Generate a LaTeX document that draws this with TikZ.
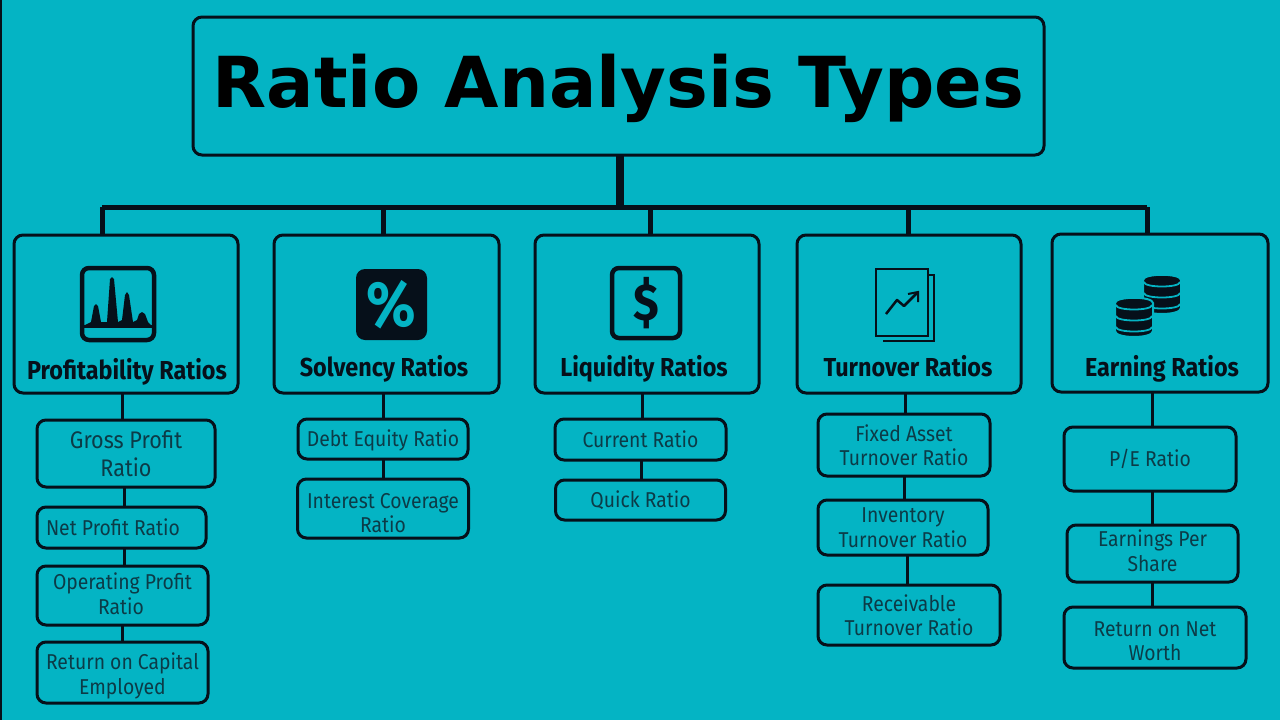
\documentclass[tikz,border=0pt]{standalone}
\usepackage{fontspec}
\setmainfont{Fira Sans}
\newfontfamily\titlefont{DejaVu Sans}
\newfontfamily\labelfont[FakeStretch=.9]{Fira Sans}
\usetikzlibrary{positioning, calc}
\definecolor{panel}{HTML}{04B4C4}
\definecolor{ink}{HTML}{06101A}
\definecolor{subink}{HTML}{0C3B47}
\newcommand{\lowerby}[1]{\rule{0pt}{#1}}
\newcommand{\raiseby}[1]{\rule[-#1]{0pt}{0pt}}
\tikzset{
    titlebox/.style={draw=ink, line width=3pt, rounded corners=9pt, outer sep=0pt, minimum width=851pt, minimum height=138pt, font=\titlefont\fontsize{70.3}{76}\selectfont\bfseries},
    mainbox/.style={draw=ink, line width=3pt, rounded corners=9pt, outer sep=0pt, minimum width=224pt, minimum height=158pt},
    subbox/.style={draw=ink, line width=3pt, rounded corners=9pt, outer sep=0pt, align=center, inner sep=0pt, text=subink, font=\labelfont\fontsize{21.5}{24.5}\selectfont},
    headtext/.style={inner sep=0pt, anchor=base, text=ink, font=\labelfont\fontsize{26}{28}\selectfont\bfseries},
    bar/.style={draw=ink, line width=3pt},
    bus/.style={draw=ink, line width=5pt},
    icon/.style={draw=ink, line width=4.5pt, rounded corners=7pt}
}
\begin{document}
\begin{tikzpicture}[x=1pt, y=-1pt]
	\fill[panel] (0,0) rectangle (1280,720);
	\fill[ink] (0,0) rectangle (2,720);
	\useasboundingbox (0,0) rectangle (1280,720);
	% top
	\node(Title)[titlebox] at (618.5,86) {\lowerby{58pt}Ratio Analysis Types};
	% main row
	\node(Profit)[mainbox] at (126,314) {};
	\node(Solvency)[mainbox, right=36pt of Profit, minimum width=225pt] {};
	\node(Liquidity)[mainbox, right=36pt of Solvency] {};
	\node(Turnover)[mainbox, right=38pt of Liquidity] {};
	\node(Earning)[mainbox, right=31pt of Turnover, minimum width=216pt, yshift=1pt] {};
	\node(ProfitText)[headtext] at (127,379) {Profitability Ratios};
	\node(SolvencyText)[headtext] at (384,376) {Solvency Ratios};
	\node(LiquidityText)[headtext] at (644,376) {Liquidity Ratios};
	\node(TurnoverText)[headtext] at (908,376) {Turnover Ratios};
	\node(EarningText)[headtext] at (1162,376) {Earning Ratios};
	% first column
	\node(Gross)[subbox, minimum width=178pt, minimum height=67pt, below=27pt of Profit, font=\labelfont\fontsize{24}{28}\selectfont] {Gross Profit\hspace{6pt}\\Ratio\hspace{6pt}};
	\node(Net)[subbox, minimum width=169pt, minimum height=41pt, below=20pt of Gross, xshift=-4.5pt] {Net Profit Ratio\hspace{17pt}};
	\node(Operating)[subbox, minimum width=171pt, minimum height=59pt, below=18pt of Net, xshift=1pt] {Operating Profit\hspace{3pt}\\Ratio\hspace{3pt}\raiseby{4pt}};
	\node(Return)[subbox, minimum width=171pt, minimum height=61pt, below=17pt of Operating] {\lowerby{24pt}Return on Capital\hspace{3pt}\\Employed\hspace{3pt}};
	% second column
	\node(Debt)[subbox, minimum width=170pt, minimum height=40pt, below=26pt of Solvency, xshift=-3.5pt] {\lowerby{20pt}Debt Equity Ratio};
	\node(Interest)[subbox, minimum width=171pt, minimum height=59pt, below=20pt of Debt] {\lowerby{24pt}Interest Coverage\\Ratio};
	% third column
	\node(Current)[subbox, minimum width=171pt, minimum height=41pt, below=26pt of Liquidity, xshift=-6.5pt] {Current Ratio};
	\node(Quick)[subbox, minimum width=170pt, minimum height=40pt, below=20pt of Current] {Quick Ratio};
	% fourth column
	\node(Fixed)[subbox, minimum width=172pt, minimum height=62pt, below=21pt of Turnover, xshift=-5pt] {Fixed Asset\hspace{4pt}\\Turnover Ratio};
	\node(Inventory)[subbox, minimum width=170pt, minimum height=55pt, below=24pt of Fixed, xshift=-1pt] {Inventory\\Turnover Ratio};
	\node(Receivable)[subbox, minimum width=182pt, minimum height=60pt, below=30pt of Inventory, xshift=6pt] {Receivable\hspace{4pt}\\Turnover Ratio};
	% fifth column
	\node(PE)[subbox, minimum width=172pt, minimum height=64pt, below=35pt of Earning, xshift=-10pt] {P/E Ratio};
	\node(EPS)[subbox, minimum width=171pt, minimum height=57pt, below=34pt of PE, xshift=2.5pt] {Earnings Per\\Share\raiseby{6pt}};
	\node(Worth)[subbox, minimum width=182pt, minimum height=61pt, below=25pt of EPS, xshift=2.5pt] {\lowerby{22pt}Return on Net\hspace{6pt}\\Worth\hspace{6pt}};
	% bus from the title
	\coordinate(BusA) at (102,207);
	\coordinate(BusB) at (383,207);
	\coordinate(BusC) at (650,207);
	\coordinate(BusD) at (908,207);
	\coordinate(BusE) at (1147,207);
	\coordinate(Trunk) at (620,207);
	\draw[draw=ink, line width=8pt](Trunk |- Title.south)--(Trunk);
	\draw[bus](BusA)--(BusE);
	\draw[bus](BusA)--(BusA |- Profit.north);
	\draw[bus](BusB)--(BusB |- Solvency.north);
	\draw[bus](BusC)--(BusC |- Liquidity.north);
	\draw[bus](BusD)--(BusD |- Turnover.north);
	\draw[bus](BusE)--(BusE |- Earning.north);
	% links down the columns
	\draw[bar]([xshift=-4pt]Profit.south)--([xshift=-4pt]Profit.south |- Gross.north);
	\draw[bar]([xshift=-2pt]Gross.south)--([xshift=-2pt]Gross.south |- Net.north);
	\draw[bar]([xshift=2.5pt]Net.south)--([xshift=2.5pt]Net.south |- Operating.north);
	\draw[bar]([xshift=-0.5pt]Operating.south)--([xshift=-0.5pt]Operating.south |- Return.north);
	\draw[bar]([xshift=-3.5pt]Solvency.south)--([xshift=-3.5pt]Solvency.south |- Debt.north);
	\draw[bar](Debt.south)--(Debt.south |- Interest.north);
	\draw[bar]([xshift=-5pt]Liquidity.south)--([xshift=-5pt]Liquidity.south |- Current.north);
	\draw[bar]([xshift=0.5pt]Current.south)--([xshift=0.5pt]Current.south |- Quick.north);
	\draw[bar]([xshift=-4pt]Turnover.south)--([xshift=-4pt]Turnover.south |- Fixed.north);
	\draw[bar](Fixed.south)--(Fixed.south |- Inventory.north);
	\draw[bar]([xshift=4pt]Inventory.south)--([xshift=4pt]Inventory.south |- Receivable.north);
	\draw[bar]([xshift=-8pt]Earning.south)--([xshift=-8pt]Earning.south |- PE.north);
	\draw[bar]([xshift=2pt]PE.south)--([xshift=2pt]PE.south |- EPS.north);
	\draw[bar]([xshift=-0.5pt]EPS.south)--([xshift=-0.5pt]EPS.south |- Worth.north);
	% chart icon
	\draw[icon](82,268) rectangle (154,340);
	\fill[ink](85,325)--(91,322)--(94,306)--(96,304)--(98,306)--(101,322)--(107,322)--(110,279)--(112,277)--(114,279)--(118,322)--(122,320)--(125,295)--(127,292)--(129,295)--(133,322)--(137,320)--(139,314)--(142,312)--(145,314)--(148,322)--(151,325)--cycle;
	\draw[draw=ink, line width=3pt](84,326)--(152,326);
	% percent icon
	\fill[ink, rounded corners=9pt](356,269) rectangle (427,340);
	\node(Percent)[inner sep=0pt, text=panel, font=\labelfont\fontsize{64}{64}\selectfont\bfseries] at (391,304.5) {\%};
	% dollar icon
	\draw[icon](612,268) rectangle (680,338);
	\node(Dollar)[inner sep=0pt, text=ink, font=\labelfont\fontsize{52}{52}\selectfont\bfseries] at (646,303) {\$};
	% paper icon
	\draw[draw=ink, line width=2.5pt](883,275)--(934,275)--(934,341)--(883,341);
	\draw[draw=ink, fill=panel, line width=2.5pt](876,269) rectangle (928,336);
	\draw[draw=ink, line width=2.5pt, line join=round](886,314)--(897,300)--(904,306)--(917,293);
	\draw[draw=ink, line width=2pt](908,294)--(918,292)--(918,302);
	% coins icon
	\foreach \x/\y in {1162/275, 1134/298}{
		\fill[ink, draw=panel, line width=2pt](\x-19,\y+5)..controls (\x-19,\y-2) and (\x+19,\y-2)..(\x+19,\y+5)--(\x+19,\y+33)..controls (\x+19,\y+41) and (\x-19,\y+41)..(\x-19,\y+33)--cycle;
		\foreach \dy in {0,1,2}{
			\draw[draw=panel, line width=1.8pt](\x-18,\y+7+\dy*11)..controls (\x-18,\y+13+\dy*11) and (\x+18,\y+13+\dy*11)..(\x+18,\y+7+\dy*11);
		}
	}
\end{tikzpicture}
\end{document}
